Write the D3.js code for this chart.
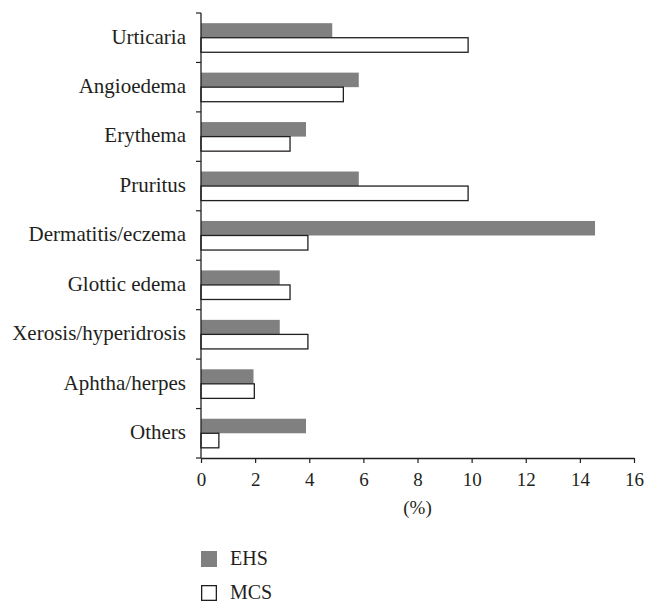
<!DOCTYPE html>
<html>
<head>
<meta charset="utf-8">
<script src="https://cdn.jsdelivr.net/npm/d3@7"></script>
<style>
  body { margin: 0; background: #fff; }
  svg text { font-family: "Liberation Serif", "Times New Roman", serif; fill: #231f20; }
</style>
</head>
<body>
<svg id="chart" width="646" height="604"></svg>
<script>
// symptom categories, top to bottom
const categories = [
    'Urticaria', 'Angioedema', 'Erythema', 'Pruritus', 'Dermatitis/eczema',
    'Glottic edema', 'Xerosis/hyperidrosis', 'Aphtha/herpes', 'Others'
];
const series = ['EHS', 'MCS'];
const ehsValues = [4.85, 5.83, 3.88, 5.83, 14.56, 2.91, 2.91, 1.94, 3.88];
const mcsValues = [9.87, 5.26, 3.29, 9.87, 3.95, 3.29, 3.95, 1.97, 0.66];
const xTicks = [0, 2, 4, 6, 8, 10, 12, 14, 16];

const margin = { top: 13, right: 12, bottom: 146, left: 201 };
const width = 646 - margin.left - margin.right;
const height = 604 - margin.top - margin.bottom;

const svg = d3.select('#chart');
const g = svg.append('g').attr('transform', `translate(${margin.left},${margin.top})`);

const x = d3.scaleLinear().domain([0, 16]).range([0, width]);
const y = d3.scaleBand().domain(categories).range([0, height]).padding(0);
const ySub = d3.scaleBand().domain(series).range([0, y.bandwidth()])
    .paddingInner(0).paddingOuter(0.7);

const rows = categories.map((c, i) => ({ cat: c, EHS: ehsValues[i], MCS: mcsValues[i] }));
const styles = {
    EHS: { fill: '#808080', stroke: 'none' },
    MCS: { fill: '#fff', stroke: '#231f20' }
};

const groups = g.selectAll('.row')
    .data(rows)
    .enter()
    .append('g')
    .attr('class', 'row')
    .attr('transform', d => `translate(0,${y(d.cat)})`);

groups.selectAll('rect')
    .data(d => series.map(s => ({ s, v: d[s] })))
    .enter()
    .append('rect')
    .attr('x', 0)
    .attr('y', d => ySub(d.s))
    .attr('width', d => x(d.v))
    .attr('height', ySub.bandwidth())
    .attr('fill', d => styles[d.s].fill)
    .attr('stroke', d => styles[d.s].stroke)
    .attr('stroke-width', 1.3);

// x axis
const xAxis = g.append('g')
    .attr('transform', `translate(0,${height})`)
    .call(d3.axisBottom(x).tickValues(xTicks).tickSize(5).tickPadding(10).tickSizeOuter(0));
xAxis.select('.domain').attr('stroke', '#231f20').attr('stroke-width', 1.3);
xAxis.selectAll('.tick line').attr('stroke', '#231f20').attr('stroke-width', 1.2);
xAxis.selectAll('.tick text').style('font-size', '19px');

g.append('text')
    .attr('x', x(8))
    .attr('y', height + 56)
    .attr('text-anchor', 'middle')
    .style('font-size', '19px')
    .text('(%)');

// y axis: line plus ticks at band boundaries
g.append('line')
    .attr('x1', 0).attr('x2', 0)
    .attr('y1', 0).attr('y2', height)
    .attr('stroke', '#231f20').attr('stroke-width', 1.3);

const bounds = categories.map(c => y(c)).concat([height]);
g.selectAll('.ytick')
    .data(bounds)
    .enter()
    .append('line')
    .attr('x1', -5).attr('x2', 0)
    .attr('y1', d => d).attr('y2', d => d)
    .attr('stroke', '#231f20').attr('stroke-width', 1.2);

g.selectAll('.ylabel')
    .data(categories)
    .enter()
    .append('text')
    .attr('x', -15)
    .attr('y', d => y(d) + y.bandwidth() / 2)
    .attr('dy', '0.28em')
    .attr('text-anchor', 'end')
    .style('font-size', '21px')
    .text(d => d);

// legend
const legend = svg.append('g').attr('transform', 'translate(201,551)');
const items = legend.selectAll('g')
    .data(series)
    .enter()
    .append('g')
    .attr('transform', (d, i) => `translate(0,${i * 34})`);

items.append('rect')
    .attr('x', d => d === 'MCS' ? 0.65 : 0)
    .attr('y', d => d === 'MCS' ? 0.65 : 0)
    .attr('width', d => d === 'MCS' ? 14.7 : 16)
    .attr('height', d => d === 'MCS' ? 14.7 : 16)
    .attr('fill', d => styles[d].fill)
    .attr('stroke', d => styles[d].stroke)
    .attr('stroke-width', 1.3);

items.append('text')
    .attr('x', 29)
    .attr('y', 14)
    .style('font-size', '20px')
    .text(d => d);
</script>
</body>
</html>
